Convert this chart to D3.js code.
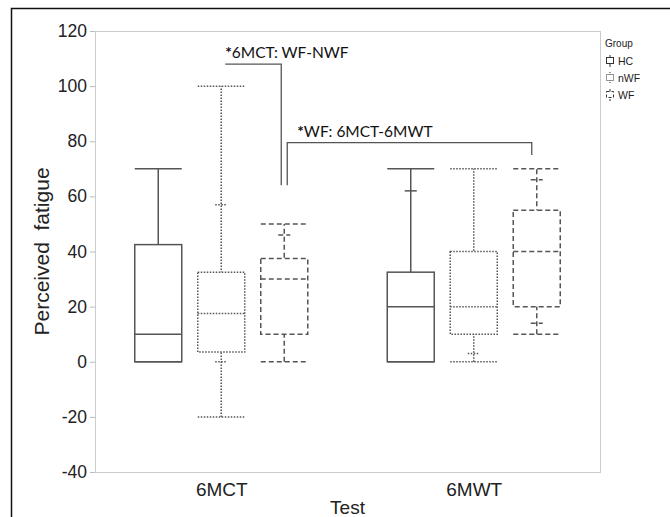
<!DOCTYPE html>
<html>
<head>
<meta charset="utf-8">
<script src="https://cdn.jsdelivr.net/npm/d3@7"></script>
<style>
	body { margin: 0; background: #fff; }
	svg { display: block; }
	.tick text { font-family: "Liberation Sans", Arial, sans-serif; }
</style>
</head>
<body>
<div id="chart"></div>
<script>
// Box order: 6MCT HC, nWF, WF, then 6MWT HC, nWF, WF
const tests = ["6MCT", "6MWT"];
const groups = ["HC", "nWF", "WF"];
const boxMin = [0, -20, 0, 0, 0, 10];
const boxQ1 = [0, 3.5, 10, 0, 10, 20];
const boxMedian = [10, 17.5, 30, 20, 20, 40];
const boxQ3 = [42.5, 32.5, 37.5, 32.5, 40, 55];
const boxMax = [70, 100, 50, 70, 70, 70];
const boxMarks = [[], [0, 57], [46], [62], [3], [14, 66]];
const yTicks = [-40, -20, 0, 20, 40, 60, 80, 100, 120];

const W = 670, H = 517;
const margin = { top: 31, right: 70, bottom: 45, left: 95 };
const innerW = W - margin.left - margin.right;
const innerH = H - margin.top - margin.bottom;

const dash = { HC: null, nWF: "1.5,1.5", WF: "5,3" };
const ink = "#555";

const svg = d3.select("#chart").append("svg")
	.attr("width", W)
	.attr("height", H);

// outer frame
svg.append("rect")
	.attr("x", 11.5).attr("y", 8.5)
	.attr("width", 700).attr("height", 600)
	.attr("fill", "none")
	.attr("stroke", "#111")
	.attr("stroke-width", 1.5);

const g = svg.append("g")
	.attr("transform", `translate(${margin.left},${margin.top})`);

const x = d3.scalePoint().domain(tests).range([0, innerW]).padding(0.5);
const xg = d3.scalePoint().domain(groups).range([-63, 63]);
const y = d3.scaleLinear().domain([-40, 120]).range([innerH, 0]);
const boxW = 47;

// plot border
g.append("rect")
	.attr("x", 0.5).attr("y", 0.5)
	.attr("width", innerW).attr("height", innerH)
	.attr("fill", "none")
	.attr("stroke", "#ccc");

// y axis (plain hyphen for negatives, like the original)
const yAxis = g.append("g")
	.call(d3.axisLeft(y).tickValues(yTicks).tickSize(5).tickPadding(3)
		.tickFormat(d => String(d)));
yAxis.select(".domain").remove();
yAxis.selectAll(".tick line").attr("stroke", "#bbb");
yAxis.selectAll(".tick text").attr("font-size", 17.5).attr("fill", "#222");

// x axis labels
const xAxis = g.append("g")
	.attr("transform", `translate(0,${innerH})`)
	.call(d3.axisBottom(x).tickSize(0).tickPadding(11));
xAxis.select(".domain").remove();
xAxis.selectAll(".tick text").attr("font-size", 19).attr("fill", "#222");

svg.append("text")
	.attr("x", margin.left + innerW / 2)
	.attr("y", 514)
	.attr("text-anchor", "middle")
	.attr("font-family", "Liberation Sans, Arial, sans-serif")
	.attr("font-size", 19)
	.attr("fill", "#222")
	.text("Test");

svg.append("text")
	.attr("transform", `translate(49,${margin.top + y(40)}) rotate(-90)`)
	.attr("text-anchor", "middle")
	.attr("font-family", "Liberation Sans, Arial, sans-serif")
	.attr("font-size", 21)
	.attr("fill", "#222")
	.style("white-space", "pre")
	.text("Perceived  fatigue");

// boxes
const boxes = boxMin.map((d, i) => ({
	test: tests[Math.floor(i / 3)],
	group: groups[i % 3],
	min: boxMin[i], q1: boxQ1[i], med: boxMedian[i], q3: boxQ3[i], max: boxMax[i],
	marks: boxMarks[i]
}));

const bx = g.selectAll("g.box").data(boxes).enter()
	.append("g")
	.attr("class", "box")
	.attr("transform", d => `translate(${x(d.test) + xg(d.group)},0)`)
	.attr("stroke", ink)
	.attr("stroke-width", 1.5)
	.attr("stroke-dasharray", d => dash[d.group])
	.attr("fill", "none");

// whiskers
bx.append("line")
	.attr("y1", d => y(d.min)).attr("y2", d => y(d.max));
bx.selectAll("line.cap").data(d => [d.min, d.max]).enter()
	.append("line")
	.attr("class", "cap")
	.attr("x1", -boxW / 2).attr("x2", boxW / 2)
	.attr("y1", v => y(v)).attr("y2", v => y(v));
// small markers
bx.selectAll("line.mark").data(d => d.marks).enter()
	.append("line")
	.attr("class", "mark")
	.attr("x1", -6).attr("x2", 6)
	.attr("y1", v => y(v)).attr("y2", v => y(v));
// box body
bx.append("rect")
	.attr("x", -boxW / 2)
	.attr("width", boxW)
	.attr("y", d => y(d.q3))
	.attr("height", d => y(d.q1) - y(d.q3))
	.attr("fill", "#fff");
bx.append("line")
	.attr("x1", -boxW / 2).attr("x2", boxW / 2)
	.attr("y1", d => y(d.med)).attr("y2", d => y(d.med));

// significance brackets
const ann = g.append("g")
	.attr("stroke", "#555")
	.attr("stroke-width", 1.3)
	.attr("fill", "none");
const xa1 = x("6MCT") + xg("nWF") + 4;
const xa2 = x("6MCT") + xg("WF") - 3;
const xb1 = x("6MCT") + xg("WF") + 3;
const xb2 = x("6MWT") + xg("WF") - 5;
ann.append("path")
	.attr("d", `M${xa1},${y(108)}H${xa2}V${y(64)}`);
ann.append("path")
	.attr("d", `M${xb1},${y(64)}V${y(79.5)}H${xb2}V${y(75)}`);

const annText = [
	{ x: xa1, y: y(108) - 6, t: "6MCT: WF-NWF" },
	{ x: xb1 + 10, y: y(79.5) - 6, t: "WF: 6MCT-6MWT" }
];
const at = g.selectAll("text.ann").data(annText).enter()
	.append("text")
	.attr("class", "ann")
	.attr("x", d => d.x).attr("y", d => d.y)
	.attr("font-family", "Lato, 'Open Sans', sans-serif")
	.attr("font-size", 15.5)
	.attr("fill", "#111");
at.append("tspan").attr("font-weight", "bold").text("*");
at.append("tspan").text(d => d.t);

// legend
const lg = svg.append("g")
	.attr("transform", "translate(605,0)")
	.attr("font-family", "Liberation Sans, Arial, sans-serif");
lg.append("text")
	.attr("x", 0).attr("y", 47)
	.attr("font-size", 10)
	.attr("fill", "#222")
	.text("Group");
const li = lg.selectAll("g.item").data(groups).enter()
	.append("g")
	.attr("class", "item")
	.attr("transform", (d, i) => `translate(0,${61 + i * 17})`);
const glyph = li.append("g")
	.attr("transform", "translate(5,0)")
	.attr("stroke", "#333")
	.attr("stroke-width", 1)
	.attr("stroke-dasharray", d => d === "HC" ? null : d === "nWF" ? "1,1" : "3,2")
	.attr("fill", "none");
glyph.append("line").attr("y1", -6).attr("y2", 6);
glyph.append("rect").attr("x", -3.5).attr("y", -3.5).attr("width", 7).attr("height", 6).attr("fill", "#fff");
li.append("text")
	.attr("x", 13).attr("y", 4)
	.attr("font-size", 10.5)
	.attr("fill", "#222")
	.text(d => d);
</script>
</body>
</html>
